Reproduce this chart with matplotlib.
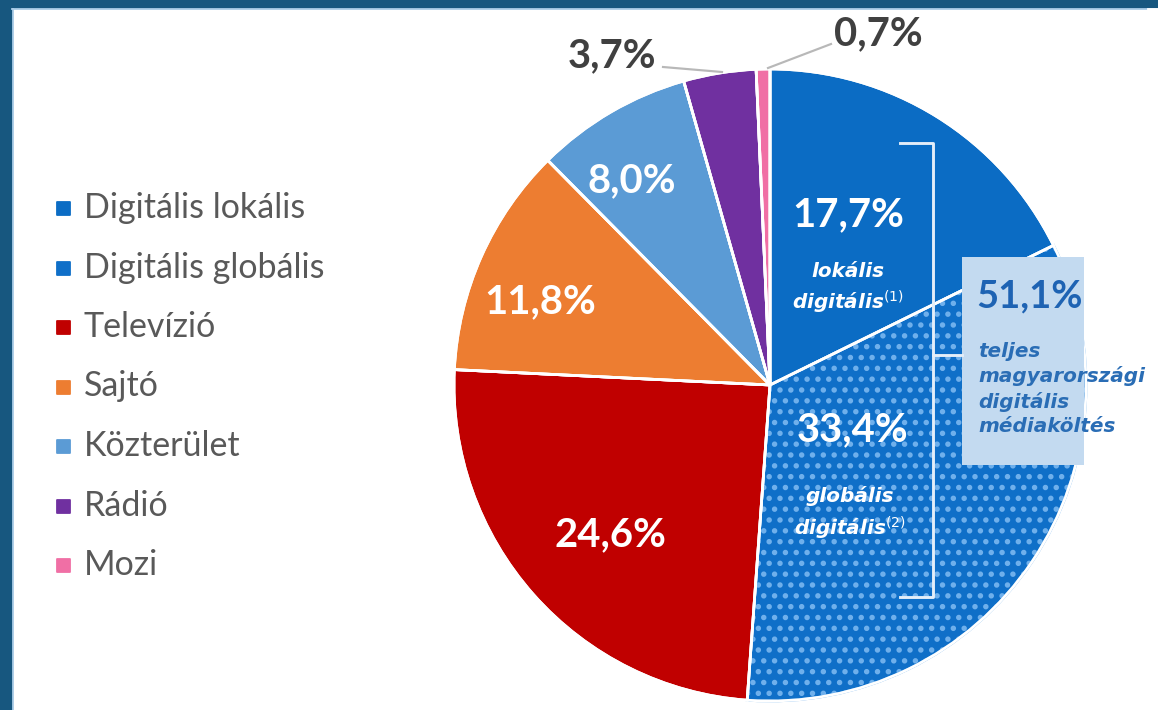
import matplotlib.pyplot as plt
from matplotlib.patches import Rectangle

plt.rcParams['font.family'] = ['Lato', 'DejaVu Sans']
plt.rcParams['hatch.linewidth'] = 1.8

categories = ['Digitális lokális', 'Digitális globális', 'Televízió', 'Sajtó',
              'Közterület', 'Rádió', 'Mozi']
shares = [17.7, 33.4, 24.6, 11.8, 8.0, 3.7, 0.7]
colors = ['#0b6cc4', '#0f6fc8', '#c00000', '#ed7d31', '#5b9bd5', '#7030a0', '#f06fa5']
digital_total = round(shares[0] + shares[1], 1)

W, H, DPI = 1158, 710, 130


def pt(px):
    # pixel size -> points at this dpi
    return px * 72 / DPI


def fmt(v):
    return f'{v:.1f}'.replace('.', ',') + '%'


fig = plt.figure(figsize=(W / DPI, H / DPI), dpi=DPI, facecolor='white')
ax = fig.add_axes([0, 0, 1, 1])

cx, cy, r = 770, H - 385, 316
wedges, _ = ax.pie(shares, colors=colors, startangle=90, counterclock=False,
                   center=(cx, cy), radius=r,
                   wedgeprops=dict(edgecolor='white', linewidth=1.5))
wedges[1].set_hatch('..')
wedges[1].set_edgecolor('#6fb0ec')
# white borders between slices drawn again on top of the hatch
ax.pie(shares, startangle=90, counterclock=False, center=(cx, cy), radius=r,
       wedgeprops=dict(fill=False, edgecolor='white', linewidth=1.5))

ax.set_xlim(0, W)
ax.set_ylim(0, H)
ax.axis('off')

# frame (top and left only)
ax.add_patch(Rectangle((W - 10, 0), 10, H - 9, color='white', zorder=7))
ax.add_patch(Rectangle((0, H - 8), W, 8, color='#17577f', zorder=6))
ax.add_patch(Rectangle((0, 0), 12, H, color='#17577f', zorder=6))
ax.plot([12, W], [H - 9, H - 9], color='#a9cbe6', lw=1, zorder=6)
ax.plot([13, 13], [0, H - 9], color='#a9cbe6', lw=1, zorder=6)

# legend
for i, (lab, col) in enumerate(zip(categories, colors)):
    y = H - (208 + i * 59.5)
    ax.scatter(63, y, marker='s', s=pt(13) ** 2, color=col, zorder=5)
    ax.text(84, y, lab, fontsize=pt(34), color='#595959', va='center', ha='left')

# labels inside slices
big = pt(40)
small = dict(fontsize=pt(20), family='DejaVu Sans', style='italic', linespacing=1.4)
white = dict(color='white', fontweight='bold', ha='center', va='center', zorder=5)
ax.text(848, H - 215, fmt(shares[0]), fontsize=big, **white)
ax.text(848, H - 289, 'lokális\ndigitális$^{(1)}$', **small, **white)
ax.text(853, H - 430, fmt(shares[1]), fontsize=big, **white)
ax.text(850, H - 514, 'globális\ndigitális$^{(2)}$', **small, **white)
ax.text(610, H - 535, fmt(shares[2]), fontsize=big, **white)
ax.text(540, H - 302, fmt(shares[3]), fontsize=big, **white)
ax.text(632, H - 181, fmt(shares[4]), fontsize=big, **white)

# outside labels
dark = dict(color='#404040', fontweight='bold', ha='center', va='center')
ax.text(612, H - 56, fmt(shares[5]), fontsize=big, **dark)
ax.plot([663, 722], [H - 67, H - 72], color='#b8b8b8', lw=1.2)
ax.text(878, H - 34, fmt(shares[6]), fontsize=big, **dark)
ax.plot([831, 768], [H - 44, H - 68], color='#b8b8b8', lw=1.2)

# digital total box and bracket
ax.add_patch(Rectangle((962, H - 465), 122, 208, facecolor='#c3daf0',
                       edgecolor='none', zorder=3))
ax.plot([900, 933, 933, 900], [H - 143, H - 143, H - 597, H - 597],
        color='#e4eef9', lw=1.6, zorder=4)
ax.plot([933, 962], [H - 355, H - 355], color='#e4eef9', lw=1.6, zorder=4)
ax.text(1030, H - 296, fmt(digital_total), fontsize=pt(38), color='#1e63b3',
        fontweight='bold', ha='center', va='center', zorder=5)
ax.text(978, H - 389, 'teljes\nmagyarországi\ndigitális\nmédiaköltés',
        fontsize=pt(20), family='DejaVu Sans', color='#2a6db5', fontweight='bold',
        style='italic', ha='left', va='center', linespacing=1.35, zorder=5)

fig.savefig('out.png', dpi=DPI, facecolor='white')
